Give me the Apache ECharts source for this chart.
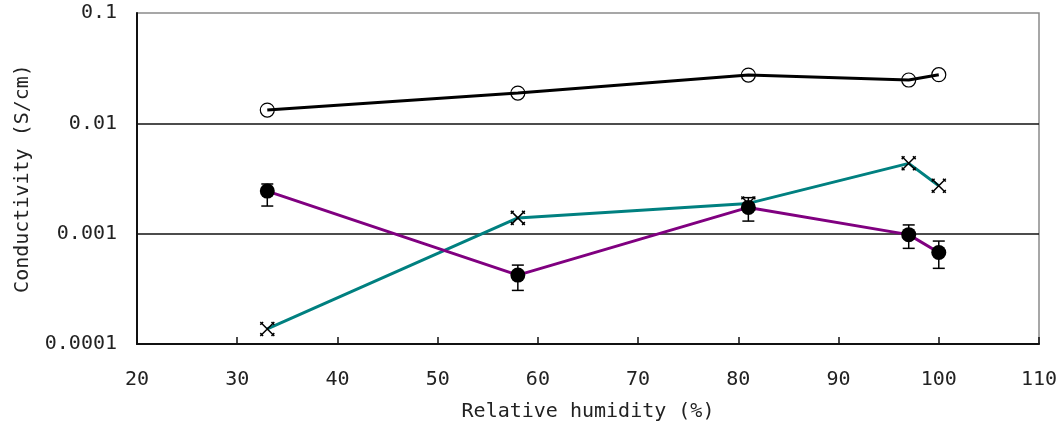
<!DOCTYPE html>
<html>
<head>
<meta charset="utf-8">
<script src="https://cdn.jsdelivr.net/npm/echarts@6/dist/echarts.min.js"></script>
<style>
  html, body { margin: 0; padding: 0; background: #fff; }
  #chart { width: 1061px; height: 431px; }
</style>
</head>
<body>
<div id="chart"></div>
<script>
// Relative humidity (%) at which conductivity was measured
const humidity = [33, 58, 81, 97, 100];

// Conductivity (S/cm) for the three samples
const sampleOpen = [0.0132, 0.0188, 0.0274, 0.0247, 0.0276];
const sampleCross = [0.000137, 0.00139, 0.00188, 0.00434, 0.00272];
const sampleFilled = [0.00243, 0.000421, 0.00173, 0.00098, 0.000676];

// Error bar bounds for the filled-circle sample
const filledLow = [0.00178, 0.000306, 0.0013, 0.000736, 0.000485];
const filledHigh = [0.00282, 0.000519, 0.00212, 0.0012, 0.000857];

// Axis tick labels
const xTickLabels = ['20', '30', '40', '50', '60', '70', '80', '90', '100', '110'];
const yTickLabels = ['0.0001', '0.001', '0.01', '0.1'];

const pairs = (ys) => humidity.map((x, i) => [x, ys[i]]);
const FONT = 'DejaVu Sans Mono';

const crossPath = 'path://M0,0L10,10M10,0L0,10M2,0L0,2M8,0L10,2M0,8L2,10M10,8L8,10';

const chart = echarts.init(document.getElementById('chart'), null, { renderer: 'canvas' });

chart.setOption({
  backgroundColor: '#fff',
  animation: false,
  grid: {
    left: 137, right: 22, top: 13, bottom: 87,
    show: true, borderColor: '#8a8a8a', borderWidth: 1.5, backgroundColor: 'transparent'
  },
  xAxis: {
    type: 'value',
    min: 20, max: 110, interval: 10,
    name: 'Relative humidity (%)',
    nameLocation: 'middle',
    nameGap: 58,
    nameTextStyle: { fontFamily: FONT, fontSize: 20, color: '#222' },
    axisLine: { show: true, lineStyle: { color: '#111', width: 2 } },
    axisTick: { show: true, inside: true, length: 7, lineStyle: { color: '#111', width: 1.5 } },
    axisLabel: {
      margin: 26, fontFamily: FONT, fontSize: 20, color: '#222',
      formatter: (v) => xTickLabels[Math.round((v - 20) / 10)] ?? ''
    },
    splitLine: { show: false }
  },
  yAxis: {
    type: 'log',
    logBase: 10,
    min: 0.0001, max: 0.1,
    name: 'Conductivity (S/cm)',
    nameLocation: 'middle',
    nameGap: 104,
    nameRotate: 90,
    nameTextStyle: { fontFamily: FONT, fontSize: 20, color: '#222' },
    axisLine: { show: true, lineStyle: { color: '#111', width: 2 } },
    axisTick: { show: false },
    axisLabel: {
      margin: 20, fontFamily: FONT, fontSize: 20, color: '#222',
      formatter: (v) => yTickLabels[Math.round(Math.log10(v) + 4)] ?? ''
    },
    splitLine: {
      show: true,
      lineStyle: { color: ['transparent', '#111', '#111', 'transparent'], width: 1.5 }
    }
  },
  series: [
    {
      name: 'open',
      type: 'line',
      data: pairs(sampleOpen),
      symbol: 'circle',
      symbolSize: 14,
      lineStyle: { color: '#000', width: 3 },
      itemStyle: { color: 'rgba(255,255,255,0)', borderColor: '#000', borderWidth: 1.2 },
      z: 3
    },
    {
      name: 'cross',
      type: 'line',
      data: pairs(sampleCross),
      symbol: crossPath,
      symbolSize: 14,
      lineStyle: { color: '#008080', width: 3 },
      itemStyle: { color: 'rgba(0,0,0,0)', borderColor: '#000', borderWidth: 1.5 },
      z: 3
    },
    {
      name: 'filled',
      type: 'line',
      data: pairs(sampleFilled),
      symbol: 'circle',
      symbolSize: 15,
      lineStyle: { color: '#800080', width: 3 },
      itemStyle: { color: '#000', borderWidth: 0 },
      z: 4
    },
    {
      name: 'filled error',
      type: 'custom',
      data: humidity.map((x, i) => [x, filledLow[i], filledHigh[i]]),
      encode: { x: 0, y: [1, 2] },
      z: 5,
      renderItem: function (params, api) {
        const x = api.value(0);
        const lo = api.coord([x, api.value(1)]);
        const hi = api.coord([x, api.value(2)]);
        const half = 6;
        const style = { stroke: '#000', lineWidth: 1.5 };
        return {
          type: 'group',
          children: [
            { type: 'line', shape: { x1: lo[0], y1: lo[1], x2: hi[0], y2: hi[1] }, style },
            { type: 'line', shape: { x1: lo[0] - half, y1: lo[1], x2: lo[0] + half, y2: lo[1] }, style },
            { type: 'line', shape: { x1: hi[0] - half, y1: hi[1], x2: hi[0] + half, y2: hi[1] }, style }
          ]
        };
      }
    }
  ]
});
</script>
</body>
</html>
